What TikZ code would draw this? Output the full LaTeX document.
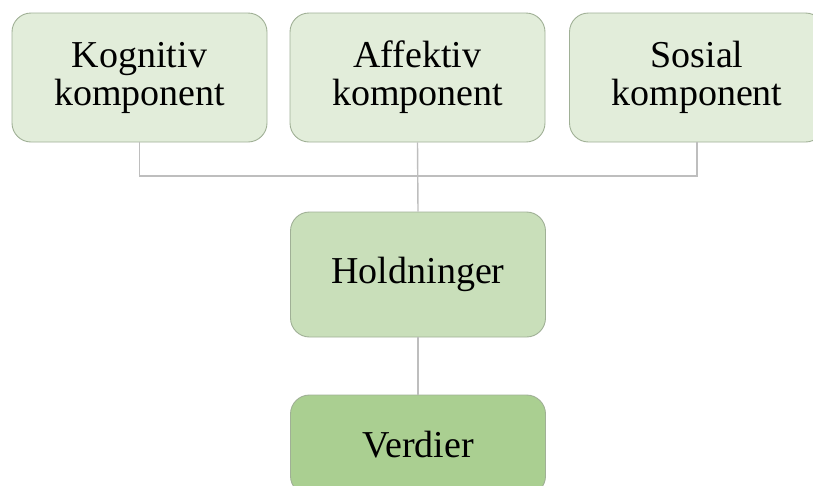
\documentclass[tikz,border=0pt]{standalone}
\usepackage{fontspec}
\setmainfont{Liberation Serif}
\definecolor{topfill}{RGB}{226,237,218}
\definecolor{midfill}{RGB}{201,223,186}
\definecolor{lowfill}{RGB}{170,207,145}
\definecolor{boxline}{RGB}{160,176,150}
\definecolor{connline}{RGB}{190,190,190}
\tikzset{
  comp/.style={draw=boxline, line width=0.9pt, rounded corners=19pt, fill=topfill,
    minimum width=255pt, minimum height=129pt, align=center, inner sep=0pt,
    font=\fontsize{38}{38}\selectfont, text=black},
  conn/.style={draw=connline, line width=1.4pt}
}
\begin{document}
\begin{tikzpicture}[x=1pt,y=-1pt]
\useasboundingbox (0,0) rectangle (813,485);
\clip (0,0) rectangle (813,485);
\node[comp] (kog) at (139.5,77.5) {Kognitiv\\komponent};
\node[comp] (aff) at (417.5,77.5) {Affektiv\\komponent};
\node[comp] (sos) at (697,77.5) {Sosial\\komponent};
\node[comp, fill=midfill, minimum height=125pt] (hold) at (418,274.5) {Holdninger};
\node[comp, fill=lowfill, minimum height=100pt] (verd) at (418,445) {Verdier};
\coordinate (bus) at (417.5,176);
\draw[conn] (kog.south) |- (bus) -| (sos.south);
\draw[conn] (aff.south) -- (hold.north);
\draw[conn] (hold.south) -- (verd.north);
\end{tikzpicture}
\end{document}
